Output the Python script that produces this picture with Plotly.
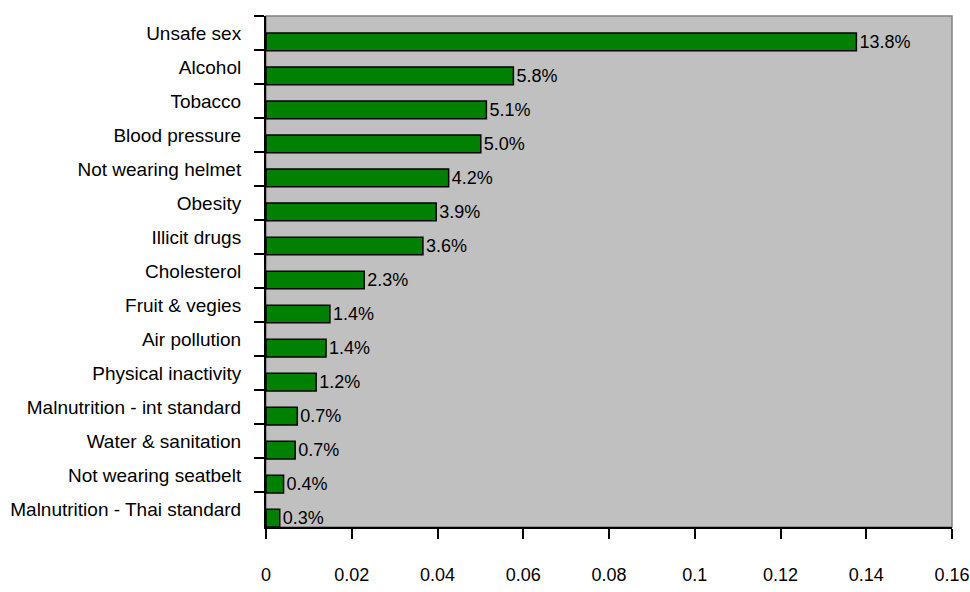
import plotly.graph_objects as go

categories = ["Unsafe sex", "Alcohol", "Tobacco", "Blood pressure", "Not wearing helmet",
              "Obesity", "Illicit drugs", "Cholesterol", "Fruit & vegies", "Air pollution",
              "Physical inactivity", "Malnutrition - int standard", "Water & sanitation",
              "Not wearing seatbelt", "Malnutrition - Thai standard"]
values = [0.1377, 0.0577, 0.0514, 0.0501, 0.0426, 0.0397, 0.0366, 0.0229,
          0.0149, 0.0140, 0.0117, 0.0073, 0.0068, 0.0041, 0.0032]
value_labels = ["13.8%", "5.8%", "5.1%", "5.0%", "4.2%", "3.9%", "3.6%", "2.3%",
                "1.4%", "1.4%", "1.2%", "0.7%", "0.7%", "0.4%", "0.3%"]
x_ticks = [0, 0.02, 0.04, 0.06, 0.08, 0.1, 0.12, 0.14, 0.16]
x_tick_text = ["0", "0.02", "0.04", "0.06", "0.08", "0.1", "0.12", "0.14", "0.16"]

FONT = "Liberation Sans, Arial, sans-serif"

fig = go.Figure(go.Bar(
    x=values, y=categories, orientation="h",
    width=0.52, offset=0,
    marker=dict(color="#008000", line=dict(color="#000000", width=1.5)),
    text=value_labels, textposition="outside", cliponaxis=False,
    constraintext="none",
    textfont=dict(family=FONT, size=18, color="#000000"),
    hoverinfo="skip",
))

fig.update_layout(
    width=970, height=592,
    margin=dict(l=266, r=18, t=16, b=65),
    paper_bgcolor="#FFFFFF", plot_bgcolor="#C0C0C0",
    showlegend=False,
    font=dict(family=FONT, size=18, color="#000000"),
    shapes=[dict(type="rect", xref="paper", yref="paper", x0=0, x1=1, y0=0, y1=1,
                 line=dict(color="#808080", width=1.5), fillcolor="rgba(0,0,0,0)", layer="below")],
)
fig.update_xaxes(
    range=[0, 0.16], tickvals=x_ticks, ticktext=x_tick_text,
    automargin=False,
    showgrid=False, zeroline=False,
    showline=True, linecolor="#000000", linewidth=2,
    ticks="outside", ticklen=10, tickwidth=2, tickcolor="#000000",
    ticklabelstandoff=20,
    tickfont=dict(family=FONT, size=18, color="#000000"),
)
fig.update_yaxes(
    autorange="reversed", type="category",
    automargin=False,
    showgrid=False, zeroline=False,
    showline=True, linecolor="#000000", linewidth=2,
    ticks="outside", ticklen=10, tickwidth=2, tickcolor="#000000",
    tickson="boundaries", ticklabelstandoff=19,
    tickfont=dict(family=FONT, size=19, color="#000000"),
)

fig.write_html("out.html")
